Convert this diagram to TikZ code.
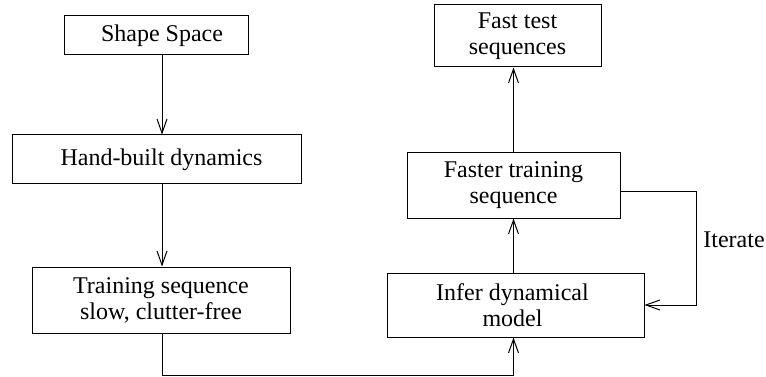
\documentclass[tikz,border=0pt]{standalone}
\usepackage{fontspec}
\setmainfont{Liberation Serif}
\usetikzlibrary{arrows.meta}
\begin{document}
\begin{tikzpicture}[x=1pt,y=-1pt,
  box/.style={draw,line width=1pt,inner sep=0pt,align=center,font=\rmfamily\fontsize{24}{26}\selectfont},
  conn/.style={line width=1pt},
  arr/.style={conn,-{Straight Barb[length=14pt,width=10pt,line width=1pt]}}]
\useasboundingbox (0,0) rectangle (766,377);
\node[box,minimum width=184pt,minimum height=39pt] (ss) at (156,35.5) {\hspace*{12pt}Shape Space};
\node[box,minimum width=289pt,minimum height=49pt] (hb) at (156.5,159.5) {\hspace*{10pt}Hand-built dynamics};
\node[box,minimum width=258pt,minimum height=66pt] (ts) at (161,300) {Training sequence\\slow, clutter-free};
\node[box,minimum width=167pt,minimum height=62pt] (ft) at (517.5,36) {Fast test\\sequences};
\node[box,minimum width=213pt,minimum height=65pt] (fs) at (513.5,185.5) {Faster training\\sequence};
\node[box,minimum width=257pt,minimum height=64pt] (im) at (515.5,305) {Infer dynamical\hspace*{6pt}\\model\hspace*{6pt}};
\node[font=\rmfamily\fontsize{24}{26}\selectfont] (it) at (734,240) {Iterate};
\coordinate (cl) at (162,0);
\coordinate (cr) at (513.5,0);
\coordinate (lo) at (0,375);
\coordinate (lx) at (696,0);
\draw[arr] (cl |- ss.south) -- (cl |- hb.north);
\draw[arr] (cl |- hb.south) -- (cl |- ts.north);
\draw[arr] (cl |- ts.south) -- (cl |- lo) -- (cr |- lo) -- (cr |- im.south);
\draw[arr] (cr |- im.north) -- (cr |- fs.south);
\draw[arr] (cr |- fs.north) -- (cr |- ft.south);
\draw[arr] ([yshift=-5.5pt]fs.east) -- ([yshift=-5.5pt]fs.east -| lx) -- (im.east -| lx) -- (im.east);
\end{tikzpicture}
\end{document}
